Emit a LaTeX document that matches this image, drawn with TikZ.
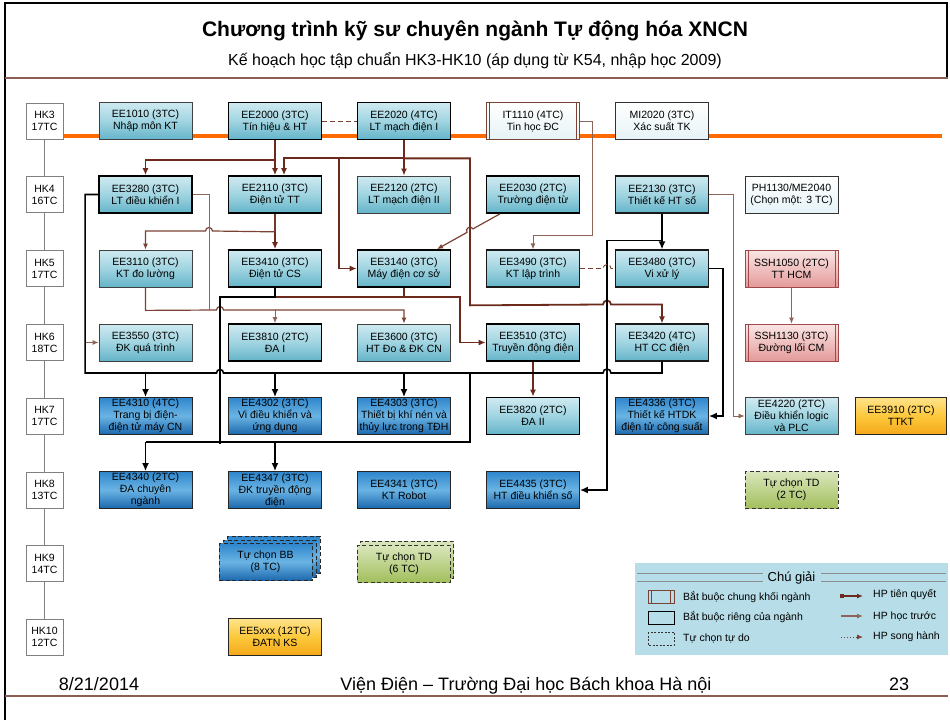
\documentclass[tikz,border=0pt]{standalone}
\usepackage{fontspec}
\setmainfont{Liberation Sans}
\usetikzlibrary{arrows.meta}
\pgfdeclarelayer{bg}
\pgfsetlayers{bg,main}

\definecolor{brD}{HTML}{6B2A1B}
\definecolor{brM}{HTML}{7A4234}
\definecolor{brL}{HTML}{8E6459}
\definecolor{lbT}{HTML}{CFEAF1}
\definecolor{lbM}{HTML}{A0D4E1}
\definecolor{lbB}{HTML}{64B4C9}
\definecolor{dbT}{HTML}{2F86CC}
\definecolor{dbM}{HTML}{6AB4E4}
\definecolor{dbB}{HTML}{1B67AC}
\definecolor{orT}{HTML}{FFE38A}
\definecolor{orM}{HTML}{FCC83C}
\definecolor{orB}{HTML}{F5A81A}
\definecolor{pkT}{HTML}{FBE6E6}
\definecolor{pkB}{HTML}{E49A9A}
\definecolor{pkD}{HTML}{A34848}
\definecolor{grT}{HTML}{DAE6BC}
\definecolor{grB}{HTML}{A2BF5C}
\definecolor{paleT}{HTML}{FFFFFF}
\definecolor{paleB}{HTML}{E6F3F7}
\definecolor{orangebar}{HTML}{FF6A00}
\definecolor{legbg}{HTML}{B7DDE8}
\definecolor{hdr}{HTML}{8A5E52}

\begin{document}
\begin{tikzpicture}[x=1pt,y=-1pt,
  font=\fontsize{10.5}{12}\selectfont,
  box/.style={minimum width=93pt,minimum height=37pt,inner sep=0pt,align=center,
    line width=0.8pt,draw=black!75},
  hb/.style={line width=1.7pt,draw=black},
  md/.style={line width=1.2pt,draw=black!90},
  lb/.style={box,top color=lbT,bottom color=lbB,middle color=lbM},
  db/.style={box,top color=dbT,bottom color=dbB,middle color=dbM,draw=black!85},
  ob/.style={box,top color=orT,bottom color=orB,middle color=orM,draw=black!85,line width=1.1pt},
  pk/.style={box,top color=pkT,bottom color=pkB,draw=pkD},
  gr/.style={box,top color=grT,bottom color=grB,draw=black!80,dash pattern=on 4pt off 2.5pt},
  dbd/.style={db,dash pattern=on 4pt off 2.5pt},
  pl/.style={box,top color=paleT,bottom color=paleB,draw=black!80},
  hk/.style={minimum width=37pt,minimum height=36pt,inner sep=0pt,align=center,
    draw=black!50,line width=0.9pt,fill=white},
  pre/.style={draw=brD,line width=1.8pt,-{Latex[length=7pt,width=6pt]}},
  preline/.style={draw=brD,line width=1.8pt},
  mid/.style={draw=brM,line width=1.2pt,-{Latex[length=6pt,width=5pt]}},
  midline/.style={draw=brM,line width=1.2pt},
  lite/.style={draw=brL,line width=0.9pt,-{Latex[length=6pt,width=5pt]}},
  liteline/.style={draw=brL,line width=0.9pt},
  blk/.style={draw=black,line width=1.6pt,-{Latex[length=8pt,width=7pt]}},
  blkline/.style={draw=black,line width=1.6pt},
  dsh/.style={draw=brM,line width=0.9pt,dash pattern=on 5pt off 3pt},
  foot/.style={anchor=base,inner sep=0pt,font=\fontsize{18}{21}\selectfont},
  legtxt/.style={anchor=west,inner sep=0pt,font=\fontsize{10.5}{12}\selectfont}
]
\useasboundingbox (0,0) rectangle (950,720);

% ---------- slide frame, header and footer ----------
\draw[black,line width=2pt] (5,720) -- (5,3) -- (947,3) -- (947,78);
\draw[hdr,line width=1.3pt] (5,78) -- (948,78);
\draw[hdr,line width=1.3pt] (5,696) -- (948,696);
\node[font=\bfseries\fontsize{21}{24}\selectfont] (title) at (475,31)
  {Chương trình kỹ sư chuyên ngành Tự động hóa XNCN};
\node[font=\fontsize{16}{19}\selectfont] (subtitle) at (475,61)
  {Kế hoạch học tập chuẩn HK3-HK10 (áp dụng từ K54, nhập học 2009)};
\node[foot] (fdate) at (99,690) {8/21/2014};
\node[foot] (finst) at (526,690) {Viện Điện – Trường Đại học Bách khoa Hà nội};
\node[foot] (fpage) at (899,690) {23};

% ---------- semester markers ----------
\node[hk] (hk3)  at (44.5,121)   {HK3\\17TC};
\node[hk] (hk4)  at (44.5,194.5) {HK4\\16TC};
\node[hk] (hk5)  at (44.5,268.5) {HK5\\17TC};
\node[hk] (hk6)  at (44.5,342.5) {HK6\\18TC};
\node[hk] (hk7)  at (44.5,416)   {HK7\\17TC};
\node[hk] (hk8)  at (44.5,490)   {HK8\\13TC};
\node[hk] (hk9)  at (44.5,563.5) {HK9\\14TC};
\node[hk] (hk10) at (44.5,637)   {HK10\\12TC};

% ---------- courses ----------
% HK3
\node[lb] (e1010) at (145.5,121) {EE1010 (3TC)\\Nhập môn KT};
\node[lb,hb] (e2000) at (275,121) {EE2000 (3TC)\\Tín hiệu \& HT};
\node[lb,hb] (e2020) at (404,121) {EE2020 (4TC)\\LT mạch điện I};
\node[pl,draw=brM] (e1110) at (533,121) {IT1110 (4TC)\\Tin học ĐC};
\node[pl] (m2020) at (662,121) {MI2020 (3TC)\\Xác suất TK};
% HK4
\node[lb,hb] (e3280) at (145.5,194.5) {EE3280 (3TC)\\LT điều khiển I};
\node[lb,hb] (e2110) at (275,194.5) {EE2110 (3TC)\\Điện tử TT};
\node[lb] (e2120) at (404,194.5) {EE2120 (2TC)\\LT mạch điện II};
\node[lb,hb] (e2030) at (533,194.5) {EE2030 (2TC)\\Trường điện từ};
\node[lb,md] (e2130) at (662,194.5) {EE2130 (3TC)\\Thiết kế HT số};
\node[pl] (p1130) at (791.5,194.5) {PH1130/ME2040\\(Chọn một: 3 TC)};
% HK5
\node[lb] (e3110) at (145.5,268.5) {EE3110 (3TC)\\KT đo lường};
\node[lb,hb] (e3410) at (275,268.5) {EE3410 (3TC)\\Điện tử CS};
\node[lb,hb] (e3140) at (404,268.5) {EE3140 (3TC)\\Máy điện cơ sở};
\node[lb,md] (e3490) at (533,268.5) {EE3490 (3TC)\\KT lập trình};
\node[lb,md] (e3480) at (662,268.5) {EE3480 (3TC)\\Vi xử lý};
\node[pk] (s1050) at (791.5,268.5) {SSH1050 (2TC)\\TT HCM};
% HK6
\node[lb] (e3550) at (145.5,342.5) {EE3550 (3TC)\\ĐK quá trình};
\node[lb,hb] (e3810) at (275,342.5) {EE3810 (2TC)\\ĐA I};
\node[lb] (e3600) at (404,342.5) {EE3600 (3TC)\\HT Đo \& ĐK CN};
\node[lb,hb] (e3510) at (533,342.5) {EE3510 (3TC)\\Truyền động điện};
\node[lb,md] (e3420) at (662,342.5) {EE3420 (4TC)\\HT CC điện};
\node[pk] (s1130) at (791.5,342.5) {SSH1130 (3TC)\\Đường lối CM};
% HK7
\node[db] (e4310) at (145.5,416) {EE4310 (4TC)\\Trang bị điện-\\điện tử máy CN};
\node[db] (e4302) at (275,416) {EE4302 (3TC)\\Vi điều khiển và\\ứng dụng};
\node[db] (e4303) at (404,416) {EE4303 (3TC)\\Thiết bị khí nén và\\thủy lực trong TĐH};
\node[lb,hb] (e3820) at (533,416) {EE3820 (2TC)\\ĐA II};
\node[db] (e4336) at (662,416) {EE4336 (3TC)\\Thiết kế HTDK\\điện tử công suất};
\node[lb] (e4220) at (791.5,416) {EE4220 (2TC)\\Điều khiển logic\\và PLC};
\node[ob,minimum width=91pt] (e3910) at (901,416) {EE3910 (2TC)\\TTKT};
% HK8
\node[db] (e4340) at (145.5,490) {EE4340 (2TC)\\ĐA chuyên\\ngành};
\node[db] (e4347) at (275,490) {EE4347 (3TC)\\ĐK truyền động\\điện};
\node[db] (e4341) at (404,490) {EE4341 (3TC)\\KT Robot};
\node[db] (e4435) at (533,490) {EE4435 (3TC)\\HT điều khiển số};
\node[gr] (td2) at (791.5,490) {Tự chọn TD\\(2 TC)};
% HK9
\node[dbd] (bb3) at (273.5,555) {};
\node[dbd] (bb2) at (269.5,558.5) {};
\node[dbd] (bb1) at (265.5,562) {Tự chọn BB\\(8 TC)};
\node[gr] (td6b) at (407,559.5) {};
\node[gr] (td6) at (404,563.5) {Tự chọn TD\\(6 TC)};
% HK10
\node[ob] (e5xxx) at (275,637) {EE5xxx (12TC)\\ĐATN KS};

% side bars of the common-block courses
\foreach \n/\c in {e1110/brM,s1050/pkD,s1130/pkD}
  \draw[draw=\c,line width=0.8pt]
    ([xshift=3.5pt]\n.north west) -- ([xshift=3.5pt]\n.south west)
    ([xshift=-3.5pt]\n.north east) -- ([xshift=-3.5pt]\n.south east);

% ---------- time axis and HK3 bar ----------
\begin{pgfonlayer}{bg}
  \draw[orangebar,line width=4.5pt] (hk3.center |- 0,136) -- (942,136);
  \draw[black!50,line width=1pt] (hk3) -- (hk10);
\end{pgfonlayer}

% ---------- prerequisites ----------
% EE2000
\draw[pre] (e2000.south) -- ++(0,20) -| (e3280.north);
\draw[pre] (e2000.south) -- (e2110.north);
\draw[dsh] (e2000.east) -- (e2020.west);
% EE2020
\draw[pre] (e2020.south) -- (e2120.north);
\draw[pre] (e2020.south) -- ++(0,18) -| ([xshift=9pt]e2110.north);
\draw[pre] (e2020.south) -- ++(0,18) -- ++(-65,0) |- (e3140.west);
\draw[pre] (e2020.south) -- ++(0,18) -- ++(66,0) -- ++(0,147) -- (603,304.5)
  arc (180:360:4) -| (e3420.north);
% EE2110
\draw[pre] (e2110.south) -- (e3410.north);
\draw[mid] (e2110.south) -- ++(0,18) -- (212.5,231) arc (0:-180:3.5) -| (e3110.north);
% EE2030
\draw[mid] ([xshift=-33pt]e2030.south) -- (473.02,228.85) arc (-30.4:-210.4:3.5)
  -- ([xshift=33pt]e3140.north);
% IT1110
\draw[lite] (e1110.east) -- ++(13,0) |- ([yshift=14pt]e3490.north) -- (e3490.north);
% EE2130
\draw[blk] (e2130.south) -- (e3480.north);
\draw[blk] (e2130.south) -- ++(0,27) -- ++(-55,0) |- (e4435.east);
\draw[lite] (e2130.east) -- ++(24,0) |- (e4220.west);
% EE3480 / EE3490
\draw[blk] (e3480.east) -- ++(14,0) |- (e4336.east);
\draw[dsh] (e3490.east) -- (603,268.5) arc (180:360:4) -- (e3480.west);
% SSH
\draw[lite] (s1050.south) -- (s1130.north);
% EE3410, EE3140 -> EE3510 -> EE3820
\draw[pre] (e3410.south) -- ++(0,9) -- ++(185,0) |- (e3510.west);
\draw[preline] (e3140.south) -- ++(0,9);
\draw[pre] (e3510.south) -- (e3820.north);
% EE3110, EE3280 -> EE3810, EE3600
\draw[mid] (e3110.south) -- ++(0,23) -- (216.5,310) arc (180:360:3.5) -| (e3600.north);
\draw[liteline] (e3280.east) -- ++(17,0) -- ++(0,115.5);
\draw[lite] ([yshift=14pt]e3810.north) -- (e3810.north);
% EE3280, EE3420 -> HK7 courses
\draw[blkline] (e3280.west) -- ++(-13,0) |- (216.5,373) arc (180:360:3.5)
  -- (603,373) arc (180:360:4) -| (e3420.south);
\draw[lite] ([xshift=-13pt]e3550.west) -- (e3550.west);
\draw[blk] ([yshift=24pt]e4310.north) -- (e4310.north);
\draw[blk] ([yshift=24pt]e4302.north) -- (e4302.north);
\draw[blk] ([yshift=24pt]e4303.north) -- (e4303.north);
% EE3410 -> HK8 courses
\draw[blkline] (e3410.south) -- ++(0,9) -- ++(-55,0) -- ++(0,147);
\draw[blkline] ([yshift=29pt]e4340.north) -- ++(324.5,0) -- ++(0,-70);
\draw[blk] ([yshift=29pt]e4340.north) -- (e4340.north);
\draw[blk] ([yshift=29pt]e4347.north) -- (e4347.north);

% ---------- legend ----------
\node[fill=legbg,minimum width=313pt,minimum height=92pt,inner sep=0pt,anchor=north west]
  (leg) at (635,563) {};
\node[font=\fontsize{13}{15}\selectfont] (legt) at (791.5,577.5) {Chú giải};
\draw[black!45,line width=0.8pt]
  (637,573) -- (763,573) (637,581) -- (763,581)
  (821,573) -- (946,573) (821,581) -- (946,581);
\draw[brM,line width=0.9pt] (648,590) rectangle (674,603)
  (651.5,590) -- (651.5,603) (670.5,590) -- (670.5,603);
\draw[black,line width=1pt] (648,611) rectangle (674,624);
\draw[black!80,line width=0.8pt,dash pattern=on 2pt off 1.5pt] (648,632) rectangle (674,645);
\node[legtxt] (l1) at (683,597) {Bắt buộc chung khối ngành};
\node[legtxt] (l2) at (683,617) {Bắt buộc riêng của ngành};
\node[legtxt] (l3) at (683,638) {Tự chọn tự do};
\draw[draw=brD,line width=1.5pt,{Square[length=4pt,width=4pt]}-{Latex[length=6pt,width=5pt]}]
  (840,596) -- (863,596);
\draw[draw=brL,line width=1.4pt,-{Latex[length=6pt,width=5pt]}] (841,616) -- (863,616);
\draw[draw=brM,line width=0.9pt,dotted,-{Latex[length=6pt,width=5pt]}] (841,637) -- (863,637);
\node[legtxt] (a1) at (873,595) {HP tiên quyết};
\node[legtxt] (a2) at (873,616) {HP học trước};
\node[legtxt] (a3) at (873,637) {HP song hành};
\end{tikzpicture}
\end{document}
